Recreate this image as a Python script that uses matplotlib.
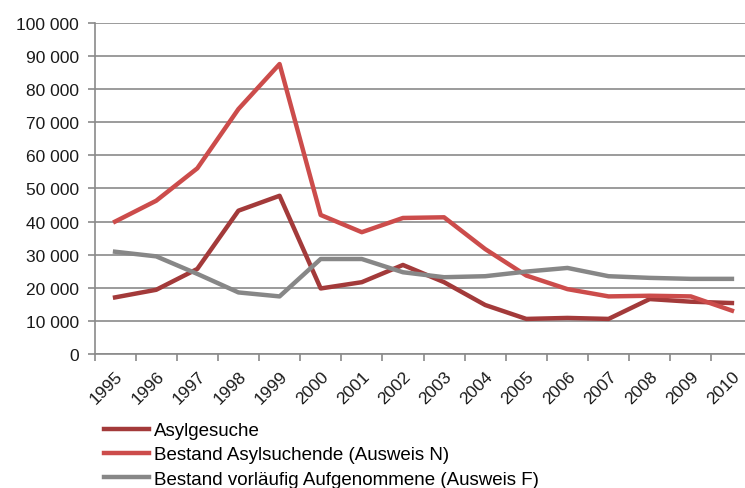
import matplotlib.pyplot as plt
from matplotlib.ticker import FuncFormatter, MultipleLocator
import numpy as np

years = [str(y) for y in range(1995, 2011)]
asylgesuche = [17100, 19400, 25700, 43300, 47800, 19800, 21700, 26900,
               21700, 14800, 10600, 10900, 10600, 16600, 15800, 15400]
bestand_n = [40000, 46300, 56100, 74000, 87600, 42000, 36800, 41100,
             41300, 31700, 23700, 19600, 17400, 17600, 17400, 13100]
bestand_f = [30900, 29500, 24200, 18600, 17400, 28700, 28700, 24700,
             23200, 23500, 24900, 26000, 23500, 23000, 22700, 22700]
labels = ['Asylgesuche', 'Bestand Asylsuchende (Ausweis N)',
          'Bestand vorläufig Aufgenommene (Ausweis F)']

plt.rcParams['font.family'] = ['Liberation Sans', 'DejaVu Sans']
grid_c = '#8a8a8a'
txt_c = '#1a1a1a'

fig = plt.figure(figsize=(7.45, 4.89), dpi=100)
# axes reaches a bit past the right edge like the original crop
ax = fig.add_axes([94.5 / 745, (489 - 355) / 489, 658 / 745, 331 / 489])

x = np.arange(len(years))
ax.plot(x, asylgesuche, color='#a33a3a', lw=3.2, label=labels[0], solid_joinstyle='round')
ax.plot(x, bestand_n, color='#cc4c4b', lw=3.2, label=labels[1], solid_joinstyle='round')
ax.plot(x, bestand_f, color='#878787', lw=3.2, label=labels[2], solid_joinstyle='round')

ax.set_xlim(-0.5, len(years) - 0.5)
ax.set_ylim(0, 100000)
ax.yaxis.set_major_locator(MultipleLocator(10000))
ax.yaxis.set_major_formatter(FuncFormatter(lambda v, p: f'{int(v):,}'.replace(',', ' ')))
ax.grid(axis='y', color=grid_c, lw=1.2)
ax.set_axisbelow(True)

ax.set_xticks(x)
ax.set_xticklabels(years, rotation=45, ha='right', rotation_mode='anchor')
ax.set_xticks(np.arange(-0.5, len(years), 1), minor=True)
ax.tick_params(axis='x', which='major', length=0, pad=10, labelsize=12.5, colors=txt_c)
ax.tick_params(axis='x', which='minor', length=5, width=1.2, color=grid_c)
ax.tick_params(axis='y', length=5, width=1.2, color=grid_c, labelsize=12.5,
               labelcolor=txt_c, pad=6)

for s in ['top', 'right']:
    ax.spines[s].set_visible(False)
for s in ['left', 'bottom']:
    ax.spines[s].set_color(grid_c)
    ax.spines[s].set_linewidth(1.2)

fig.legend(loc='upper left', bbox_to_anchor=(104 / 745, 1 - 423 / 489), frameon=False,
           fontsize=13.5, handlelength=2.4, handletextpad=0.27, labelspacing=0.38,
           borderaxespad=0, borderpad=0)

fig.savefig('out.png', dpi=100)
